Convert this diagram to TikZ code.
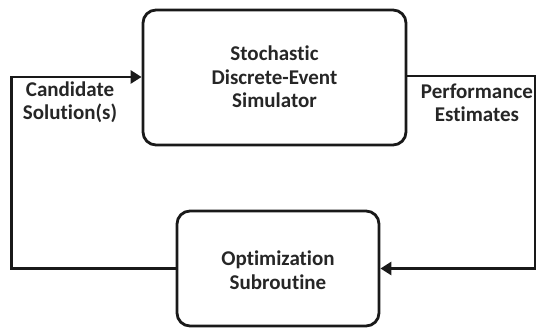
\documentclass[tikz,border=0pt]{standalone}
\usepackage{fontspec}
\setmainfont[Ligatures={NoCommon}]{Carlito}
\usetikzlibrary{arrows.meta}
\begin{document}
\begin{tikzpicture}[x=1pt,y=-1pt,
  blockbox/.style={draw=black!90, line width=2.8pt, rounded corners=13pt},
  flow/.style={draw=black!90, line width=2.8pt},
  tip/.style={-{Triangle[length=11pt,width=13pt]}},
  lbl/.style={font=\bfseries\fontsize{21}{23.5}\selectfont, align=center, text=black!85, inner sep=0pt}]
  \useasboundingbox (0,0) rectangle (536,331);
  % blocks
  \node[blockbox, minimum width=263pt, minimum height=135pt] (sim) at (274.5,77.5) {};
  \node[blockbox, minimum width=202pt, minimum height=115pt] (opt) at (278,268.5) {};
  \node[lbl] (simtxt) at (274.5,77) {Stochastic\\Discrete-Event\\Simulator};
  \node[lbl] (opttxt) at (278,270) {Optimization\\Subroutine};
  % loop corners
  \coordinate (lt) at (11.5,77);
  \coordinate (lb) at (11.5,268.5);
  \coordinate (rt) at (535.5,76);
  \coordinate (rb) at (535.5,268.5);
  % connectors
  \draw[flow, tip] (opt.west) -- (lb) -- (lt) -- (sim.west |- lt);
  \draw[flow, tip] (sim.east |- rt) -- (rt) -- (rb) -- (opt.east);
  % labels
  \node[lbl] (cand) at (70,102) {Candidate\\Solution(s)};
  \node[lbl] (perf) at (477,103) {Performance\\Estimates};
\end{tikzpicture}
\end{document}
